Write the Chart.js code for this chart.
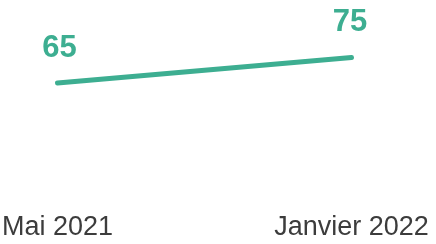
<!DOCTYPE html>
<html><head><meta charset="utf-8">
<script src="https://cdn.jsdelivr.net/npm/chart.js@4"></script>
<style>html,body{margin:0;padding:0;background:#fff}#w{width:436px;height:244px}</style>
</head><body><div id="w"><canvas id="c"></canvas></div>
<script>
const categories = ["Mai 2021", "Janvier 2022"];
const values = [65, 75];
const valueLabels = ["65", "75"];
const GREEN = "#3DAE91";

const labelPlugin = {
  id: "valueLabels",
  afterDatasetsDraw(chart) {
    const ctx = chart.ctx;
    const meta = chart.getDatasetMeta(0);
    ctx.save();
    ctx.fillStyle = GREEN;
    ctx.font = "bold 31px 'Liberation Sans', Arial, sans-serif";
    ctx.textAlign = "center";
    ctx.textBaseline = "middle";
    meta.data.forEach((p, i) => {
      ctx.fillText(valueLabels[i], p.x + (i === 0 ? 2 : -1.5), p.y - 35);
    });
    ctx.restore();
  }
};

new Chart(document.getElementById("c"), {
  type: "line",
  data: {
    labels: categories,
    datasets: [{
      data: values,
      borderColor: GREEN,
      borderWidth: 5,
      borderCapStyle: "round",
      pointRadius: 0,
      tension: 0,
      clip: false
    }]
  },
  options: {
    responsive: true,
    maintainAspectRatio: false,
    animation: false,
    layout: { padding: { top: 19.25, bottom: 0, left: 57.5, right: 84.5 } },
    plugins: { legend: { display: false }, tooltip: { enabled: false } },
    scales: {
      x: {
        offset: false,
        grid: { display: false, drawTicks: false },
        border: { display: false },
        ticks: {
          color: "#3c3c3c",
          font: { family: "'Liberation Sans', Arial, sans-serif", size: 27 },
          padding: 65,
          maxRotation: 0,
          autoSkip: false
        },
        afterFit(scale) {
          scale.paddingLeft = 0; scale.paddingRight = 0;
          scale.paddingTop = 0; scale.paddingBottom = 0;
          scale.height = 97.25;
        }
      },
      y: { display: false, min: 40, max: 90 }
    }
  },
  plugins: [labelPlugin]
});
</script>
</body></html>
